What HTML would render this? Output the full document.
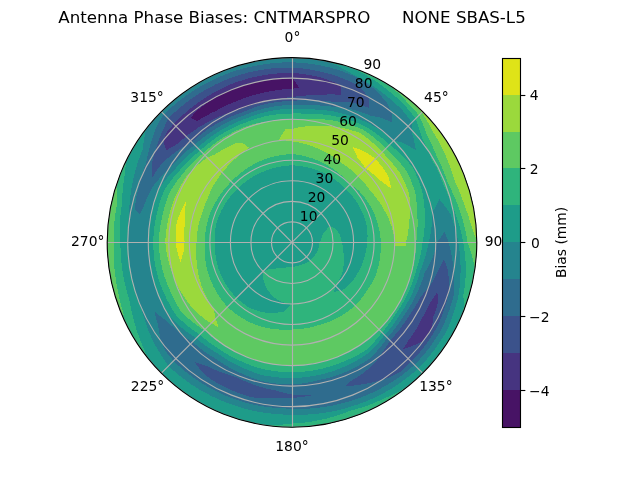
<!DOCTYPE html>
<html><head><meta charset="utf-8"><title>Antenna Phase Biases</title>
<style>html,body{margin:0;padding:0;background:#fff;overflow:hidden}svg{display:block}text{font-family:'DejaVu Sans','Liberation Sans',sans-serif;fill:#000;white-space:pre}</style></head><body>
<svg width="640" height="480" viewBox="0 0 640 480">
<rect width="640" height="480" fill="#fff"/>
<defs><clipPath id="disc"><circle cx="292.00" cy="242.40" r="184.80"/></clipPath></defs>
<g clip-path="url(#disc)" shape-rendering="crispEdges">
<rect x="100" y="50" width="390" height="390" fill="#1e9c89"/>
<path d="M292.0 113.5L296.5 113.4L301.0 113.5L305.5 113.7L310.0 114.1L314.1 114.1L318.1 114.2L322.2 114.4L326.3 114.8L330.4 115.3L334.7 116.1L339.1 117.1L343.4 118.2L347.8 119.5L352.0 120.9L356.3 122.5L360.5 124.2L364.7 126.1L368.5 128.4L372.2 130.8L375.9 133.3L379.5 136.0L383.0 138.8L386.4 141.7L389.7 144.7L393.2 147.5L396.7 150.5L400.0 153.6L403.3 156.8L406.5 160.1L409.5 163.5L412.5 167.1L414.6 171.5L416.6 175.9L418.5 180.4L420.1 184.9L421.7 189.5L422.7 194.3L423.5 199.2L424.1 204.0L424.6 208.9L424.9 213.7L424.9 217.9L424.9 222.0L424.7 226.2L424.3 230.3L423.9 234.4L423.3 238.4L422.6 242.4L422.0 246.5L421.4 250.6L420.6 254.6L419.6 258.7L418.6 262.6L417.4 266.5L416.1 270.4L414.9 274.7L413.6 278.9L412.2 283.1L410.6 287.2L408.9 291.3L407.2 294.8L405.4 298.2L403.6 301.6L401.6 304.9L399.5 308.1L397.3 311.3L395.1 315.0L392.7 318.7L390.2 322.2L387.6 325.7L384.9 329.1L382.0 332.4L379.6 335.6L377.0 338.6L374.4 341.7L371.6 344.6L368.8 347.5L365.8 350.2L361.9 352.6L358.0 354.9L353.9 357.0L349.8 358.9L345.7 360.7L341.5 362.4L337.5 363.9L333.5 365.3L329.5 366.6L325.4 367.8L321.3 368.8L317.2 369.7L313.0 370.5L308.9 371.1L304.7 371.6L300.4 371.9L296.2 372.1L292.0 372.2L287.9 372.1L283.8 372.0L279.8 371.7L275.7 371.3L271.7 370.7L267.7 370.0L263.6 369.2L259.4 368.1L255.1 366.8L250.9 365.3L246.8 363.7L242.7 362.0L238.7 360.2L234.8 358.3L230.9 356.3L227.1 354.2L223.4 351.9L219.8 349.5L216.3 347.3L212.8 345.0L209.5 342.5L206.2 340.0L202.9 337.3L199.8 334.6L196.2 332.2L192.7 329.7L189.2 327.1L185.8 324.3L182.4 321.4L179.2 318.3L176.0 315.2L173.5 311.4L171.2 307.5L169.1 303.6L167.0 299.6L165.1 295.5L163.2 291.3L161.5 287.1L159.8 282.8L158.4 278.5L157.1 274.0L156.1 269.6L155.2 265.1L154.5 260.6L154.0 256.1L153.6 251.5L153.3 247.0L153.2 242.4L153.4 237.9L153.7 233.4L154.1 228.8L154.7 224.4L155.5 219.9L156.4 215.5L157.4 211.1L158.5 206.8L159.7 202.6L161.1 198.5L162.6 194.3L164.2 190.3L166.9 186.2L169.7 182.3L172.6 178.5L175.6 174.9L178.8 171.4L181.6 168.1L184.5 164.9L187.5 161.8L190.5 158.8L193.7 156.0L196.9 153.3L200.2 150.6L203.4 147.7L206.6 144.9L209.9 142.3L213.3 139.7L216.8 137.2L220.3 134.9L224.0 132.7L227.6 130.6L231.4 128.6L235.2 126.8L239.1 125.0L243.0 123.5L247.0 122.0L250.8 120.6L254.6 119.3L258.5 118.1L262.4 117.0L266.3 116.0L270.5 115.3L274.8 114.6L279.1 114.1L283.4 113.7L287.7 113.5Z" fill="#2fb47c"/>
<path d="M292.0 118.8L296.3 118.7L300.7 118.7L305.0 118.9L309.3 119.2L313.2 119.1L317.1 119.1L321.1 119.3L325.0 119.5L329.0 119.9L333.2 120.6L337.5 121.4L341.7 122.4L345.9 123.5L350.2 124.7L354.3 126.1L358.5 127.7L362.6 129.4L366.2 131.8L369.7 134.3L373.1 136.9L376.5 139.6L379.7 142.5L382.9 145.4L385.9 148.5L389.1 151.4L392.3 154.4L395.3 157.5L398.2 160.7L401.1 164.0L403.8 167.4L406.4 170.9L408.5 175.1L410.4 179.2L412.1 183.5L413.7 187.8L415.2 192.1L415.9 196.8L416.5 201.5L416.9 206.1L417.2 210.7L417.2 215.3L417.5 219.2L417.5 223.2L417.5 227.1L417.4 230.9L417.1 234.8L416.7 238.6L416.2 242.4L416.1 246.3L415.8 250.3L415.4 254.2L414.9 258.0L414.2 261.9L413.5 265.8L412.6 269.6L411.4 273.7L410.1 277.8L408.7 281.9L407.1 285.9L405.4 289.8L403.9 293.3L402.3 296.7L400.6 300.0L398.8 303.3L396.9 306.6L394.9 309.7L392.5 313.2L390.0 316.6L387.4 319.9L384.6 323.1L381.8 326.2L378.8 329.2L376.2 331.9L373.4 334.5L370.6 337.0L367.7 339.5L364.7 341.8L361.6 344.1L358.0 346.4L354.3 348.6L350.5 350.7L346.7 352.6L342.8 354.4L338.9 356.1L335.1 357.5L331.3 358.9L327.5 360.0L323.7 361.1L319.8 362.0L315.8 362.9L311.9 363.6L308.0 364.1L304.0 364.6L300.0 364.9L296.0 365.1L292.0 365.2L288.1 365.2L284.3 365.1L280.4 364.8L276.6 364.5L272.7 364.0L268.9 363.4L265.1 362.6L261.0 361.6L257.0 360.5L252.9 359.2L249.0 357.8L245.1 356.3L241.2 354.7L237.4 353.0L233.7 351.2L230.0 349.2L226.4 347.1L222.9 344.9L219.6 342.7L216.3 340.4L213.2 338.0L210.1 335.5L207.1 332.9L204.2 330.2L200.7 328.0L197.3 325.6L194.0 323.1L190.7 320.5L187.5 317.7L184.3 314.9L181.3 311.9L179.0 308.2L176.9 304.5L174.8 300.7L172.9 296.9L171.1 293.0L169.3 289.0L167.6 285.0L166.0 280.9L164.6 276.8L163.3 272.6L162.2 268.4L161.3 264.1L160.5 259.8L159.8 255.5L159.3 251.1L159.0 246.8L158.7 242.4L159.0 238.1L159.3 233.7L159.8 229.4L160.5 225.1L161.2 220.9L162.2 216.6L163.2 212.4L164.2 208.4L165.4 204.3L166.6 200.3L168.0 196.3L169.6 192.4L172.0 188.5L174.5 184.7L177.1 181.0L179.9 177.4L182.8 173.9L185.4 170.6L188.1 167.5L190.9 164.5L193.8 161.5L196.8 158.7L199.9 156.0L203.0 153.4L206.0 150.6L209.2 147.9L212.4 145.3L215.7 142.8L219.0 140.4L222.5 138.1L226.0 136.0L229.6 134.0L233.2 132.1L236.9 130.3L240.7 128.6L244.5 127.1L248.4 125.7L252.1 124.6L255.9 123.6L259.7 122.8L263.6 122.1L267.4 121.5L271.4 120.7L275.5 120.0L279.6 119.5L283.7 119.1L287.9 118.9Z" fill="#5ec962"/>
<path d="M439.4 199.3L442.4 202.9L445.3 206.6L448.0 210.4L450.7 214.4L452.6 219.8L454.3 225.3L455.9 230.9L457.2 236.6L458.3 242.4L459.1 247.9L459.8 253.5L460.2 259.1L460.5 264.7L460.6 270.4L460.4 276.2L460.1 281.9L459.6 287.7L458.9 293.4L457.7 299.0L456.2 304.5L454.6 310.0L452.8 315.5L450.9 320.9L448.7 326.2L446.4 331.5L443.4 336.5L440.2 341.4L436.9 346.3L433.5 351.0L429.9 355.5L426.1 360.0L422.2 364.4L418.2 368.6L413.7 372.5L409.0 376.3L404.3 379.9L399.4 383.4L394.5 386.7L389.4 389.8L384.2 392.7L379.0 395.4L373.7 398.0L368.3 400.4L362.8 402.6L357.3 404.6L351.7 406.4L345.9 408.2L340.0 409.7L334.1 411.1L328.1 412.2L322.1 413.2L316.1 413.9L310.1 414.4L304.0 414.7L298.0 414.8L292.0 414.7L286.0 414.6L280.0 414.4L274.0 413.9L268.0 413.2L262.0 412.4L256.1 411.3L250.2 410.0L244.4 408.5L238.6 406.8L232.9 404.9L227.4 402.9L222.0 400.8L216.7 398.5L211.4 396.0L206.2 393.3L201.1 390.5L196.1 387.5L191.2 384.3L186.4 380.9L181.8 377.4L177.2 373.8L172.8 369.9L168.4 366.0L166.4 363.0L164.5 360.1L161.4 355.5L158.5 350.9L155.8 346.1L153.3 341.4L151.0 336.5L148.9 331.6L147.0 326.6L145.2 321.6L143.6 316.6L142.2 311.6L141.0 306.5L139.0 301.5L137.3 296.5L135.6 291.3L134.2 286.2L132.9 281.0L131.8 275.8L130.9 270.5L130.1 265.2L129.5 259.9L129.1 254.6L128.9 249.2L128.5 245.8L128.1 242.4L128.0 236.7L128.1 230.9L128.4 225.2L128.5 220.1L128.7 215.1L129.0 210.0L129.5 204.9L130.0 199.7L130.6 194.6L131.3 189.4L132.2 184.3L133.4 178.5L134.8 172.7L136.4 167.0L138.2 161.3L140.2 155.7L142.5 150.0L143.2 144.7L144.1 139.4L145.1 134.0L146.4 128.6L138.3 122.3L142.5 117.1L146.8 112.1L151.3 107.2L156.0 102.5L160.9 98.0L165.9 93.6L171.0 89.4L176.3 85.3L181.7 81.5L187.3 77.8L193.0 74.4L198.7 71.1L204.6 68.0L210.6 65.1L216.7 62.4L222.9 60.0L229.1 57.7L235.5 55.7L241.9 53.9L248.3 52.3L254.8 50.9L261.4 49.8L268.0 48.8L274.6 48.1L281.2 47.6L287.9 47.4L294.5 47.3L301.1 47.5L307.8 48.0L314.4 48.6L321.0 49.5L327.5 50.6L325.7 60.7L331.4 63.1L337.0 65.7L342.5 68.5L347.9 71.4L353.1 74.5L358.7 77.4L364.1 80.5L369.4 83.7L374.6 87.1L379.6 90.7L384.5 94.4L389.3 98.2L393.9 102.2L398.3 106.3L402.6 110.6L405.8 114.5L409.0 118.4L411.9 122.5L412.1 128.0L412.2 133.4L413.7 139.1L414.9 144.7L416.0 150.3L411.6 147.6L407.2 145.0L402.8 142.7L398.2 141.6L393.6 140.8L390.5 138.0L387.4 135.2L384.1 132.6L379.9 129.9L375.6 127.3L371.3 124.9L366.9 122.6L362.6 120.6L358.3 118.8L353.9 117.1L349.5 115.6L345.1 114.3L340.6 113.0L336.1 112.0L331.6 111.1L327.4 110.5L323.2 110.0L319.0 109.7L314.9 109.5L310.7 109.4L306.0 109.0L301.3 108.7L296.7 108.7L292.0 108.7L287.5 108.9L283.1 109.2L278.6 109.7L274.2 110.3L269.8 111.1L265.5 112.0L261.4 113.1L257.4 114.3L253.5 115.6L249.6 117.1L245.7 118.6L241.6 120.1L237.6 121.7L233.6 123.5L229.7 125.4L225.8 127.4L222.0 129.5L218.2 131.8L214.6 134.2L211.0 136.7L207.5 139.3L204.1 142.0L200.7 144.9L197.5 147.9L194.0 150.5L190.7 153.3L187.4 156.3L184.2 159.3L181.1 162.4L178.0 165.7L175.1 169.1L171.7 172.6L168.4 176.3L165.2 180.1L162.1 184.1L159.1 188.2L157.3 192.4L155.7 196.6L154.2 201.0L152.8 205.3L151.6 209.7L150.6 214.3L149.8 219.0L149.2 223.6L148.7 228.3L148.3 233.0L148.1 237.7L148.1 242.4L148.1 247.1L148.3 251.9L148.7 256.6L149.2 261.3L149.9 266.0L150.7 270.7L151.7 275.3L153.0 279.9L154.5 284.4L156.2 288.9L157.9 293.3L159.9 297.7L161.9 301.9L164.0 306.1L166.3 310.2L168.7 314.2L171.3 318.1L174.6 321.4L178.0 324.6L181.5 327.6L185.1 330.5L188.7 333.2L192.4 335.8L196.2 338.2L199.5 341.0L202.9 343.7L206.4 346.3L209.9 348.7L213.6 351.0L217.3 353.2L221.0 355.8L224.8 358.2L228.6 360.6L232.6 362.8L236.6 364.8L240.7 366.7L244.9 368.7L249.2 370.5L253.5 372.2L257.9 373.7L262.3 375.1L266.5 375.9L270.8 376.5L275.0 377.1L279.2 377.5L283.5 377.8L287.7 377.9L292.0 377.9L296.4 377.8L300.8 377.6L305.2 377.2L309.6 376.6L314.0 376.0L318.3 375.1L322.6 374.1L326.8 373.0L331.1 371.7L335.2 370.3L339.3 368.8L343.4 367.1L347.7 365.2L351.9 363.1L356.1 360.9L360.1 358.5L364.1 356.0L368.0 353.4L371.0 350.5L374.0 347.6L376.8 344.5L379.5 341.4L382.1 338.3L384.6 335.0L387.6 331.7L390.5 328.2L393.2 324.6L395.8 321.0L398.3 317.3L400.6 313.5L402.8 310.2L405.0 306.8L407.0 303.4L408.9 299.9L410.8 296.4L412.5 292.8L414.3 288.6L415.9 284.3L417.4 280.0L418.8 275.7L420.0 271.2L421.6 267.3L423.1 263.3L424.5 259.3L425.8 255.1L426.9 251.0L427.9 246.7L428.8 242.4L429.7 238.2L430.5 234.0L431.2 229.7L431.7 225.3L432.1 220.9L432.4 216.5L432.5 212.0L434.9 207.9L437.2 203.7Z" fill="#25848e"/>
<path d="M292.0 154.1L295.1 154.4L298.1 154.9L301.1 155.4L304.1 156.1L307.1 156.8L310.0 157.7L312.9 158.6L315.7 159.7L318.5 160.8L321.2 162.1L323.9 163.4L326.4 164.7L328.9 166.2L331.3 167.7L333.7 169.2L336.0 170.9L338.2 172.6L340.3 174.4L342.4 176.3L344.5 178.2L346.4 180.2L348.3 182.2L350.1 184.3L352.1 185.6L354.2 187.0L356.2 188.5L358.1 190.0L360.0 192.0L361.8 194.0L363.5 196.2L365.2 198.3L366.8 200.6L368.4 202.9L369.8 205.2L371.2 207.6L372.6 210.1L373.8 212.6L375.0 215.4L376.0 218.3L377.0 221.2L377.9 224.1L378.6 227.1L379.3 230.1L379.9 233.2L380.3 236.2L380.7 239.3L380.9 242.4L380.9 245.4L380.9 248.4L380.7 251.4L380.4 254.5L380.1 257.5L379.6 260.5L379.0 263.4L378.3 266.4L377.5 269.3L376.7 272.2L375.7 275.1L374.6 278.0L373.2 280.6L371.8 283.2L370.3 285.7L368.7 288.1L367.0 290.5L365.5 292.8L363.9 295.1L362.3 297.3L360.6 299.4L358.9 301.5L357.0 303.6L355.2 305.6L353.1 307.4L351.0 309.1L348.8 310.8L346.6 312.4L344.3 314.0L342.0 315.4L339.4 316.9L336.7 318.4L334.0 319.7L331.2 320.9L328.4 322.1L325.6 323.1L322.7 324.0L319.9 324.9L317.0 325.6L314.3 326.4L311.5 327.1L308.8 327.7L306.0 328.2L303.2 328.6L300.4 329.0L297.6 329.2L294.8 329.4L292.0 329.5L289.1 329.6L286.1 329.7L283.2 329.7L280.2 329.6L277.2 329.4L274.3 329.1L271.3 328.7L268.3 328.1L265.4 327.5L262.5 326.8L259.6 326.0L256.7 325.0L253.8 324.0L251.0 322.9L248.2 321.5L245.4 320.0L242.6 318.4L240.0 316.7L237.4 314.9L234.8 313.0L232.3 311.1L229.9 309.0L227.5 306.9L225.5 304.6L223.6 302.2L221.7 299.8L219.9 297.3L218.3 294.8L216.7 292.2L215.1 289.6L213.7 286.9L212.4 284.2L211.2 281.4L210.0 278.6L209.0 275.8L208.1 272.9L207.2 269.9L206.5 266.9L205.9 263.9L205.4 260.8L205.0 257.7L204.8 254.7L204.6 251.6L204.5 248.5L204.6 245.5L204.7 242.4L204.8 239.4L205.0 236.3L205.3 233.3L205.7 230.3L206.3 227.3L206.9 224.3L207.6 221.4L208.4 218.4L209.4 215.5L210.4 212.7L211.6 209.9L212.9 207.2L214.3 204.5L215.7 201.9L217.3 199.3L218.8 196.9L220.4 194.5L222.0 192.3L223.7 190.0L225.5 187.9L227.4 185.7L229.3 183.7L231.3 181.7L233.3 179.6L235.4 177.6L237.5 175.7L239.7 173.8L242.0 172.0L244.3 170.2L246.7 168.6L249.1 167.0L251.7 165.5L254.2 164.1L256.8 162.8L259.5 161.5L262.2 160.4L265.0 159.3L267.9 158.3L270.8 157.4L273.8 156.6L276.8 156.0L279.8 155.4L282.8 154.9L285.9 154.5L288.9 154.3Z" fill="#2fb47c"/>
<path d="M292.0 165.4L294.7 165.5L297.4 165.7L300.0 166.0L302.7 166.4L305.3 166.8L307.9 167.4L310.5 168.1L313.1 168.8L315.6 169.6L318.1 170.6L320.6 171.6L322.9 172.6L325.2 173.7L327.5 174.9L329.7 176.2L331.9 177.5L334.0 179.0L336.1 180.4L338.1 182.0L340.0 183.6L341.9 185.3L343.8 187.0L345.6 188.8L347.4 190.6L349.1 192.5L350.8 194.4L352.5 196.3L354.0 198.3L355.5 200.4L357.0 202.5L358.3 204.7L359.6 206.9L360.8 209.2L361.9 211.5L363.0 213.8L364.0 216.2L364.8 218.7L365.5 221.3L366.2 223.9L366.8 226.5L367.2 229.1L367.4 231.8L367.5 234.5L367.5 237.1L367.4 239.8L367.2 242.4L366.9 245.0L366.6 247.6L366.1 250.2L365.6 252.7L365.0 255.3L364.3 257.8L363.5 260.2L362.7 262.7L361.7 265.1L360.7 267.4L359.6 269.7L358.5 271.8L357.3 273.8L356.1 275.9L354.8 277.8L353.4 279.7L352.0 281.6L350.5 283.4L348.7 285.1L346.8 286.7L344.8 288.3L342.8 289.8L340.8 291.2L338.5 291.4L336.2 291.5L334.0 291.6L334.5 289.6L334.9 287.6L335.3 285.7L336.4 284.2L337.4 282.8L338.4 281.3L339.4 279.4L340.3 277.5L341.2 275.6L342.0 273.6L342.7 271.7L343.0 269.7L343.3 267.7L343.6 265.8L343.7 263.8L343.8 261.9L343.8 260.0L343.7 258.1L343.6 256.2L343.6 254.4L343.5 252.6L343.4 250.9L343.2 249.1L343.0 247.4L342.7 245.7L342.3 244.0L341.9 242.4L341.5 240.7L341.1 239.0L340.6 237.3L340.1 235.6L339.5 234.0L338.4 232.5L337.3 231.1L336.2 229.7L335.0 228.4L332.9 227.6L330.9 226.9L328.9 226.4L327.8 228.1L326.6 229.7L325.4 231.3L324.1 232.8L322.7 234.2L322.5 235.3L322.2 236.4L321.8 237.5L321.4 238.5L321.0 239.5L320.5 240.5L320.0 241.5L319.5 242.4L319.4 243.4L319.3 244.3L319.1 245.3L318.9 246.2L318.7 247.1L318.4 248.0L318.1 248.9L317.8 249.8L317.5 250.7L317.1 251.5L316.7 252.3L316.3 253.1L315.8 253.9L315.4 254.7L314.9 255.4L314.3 256.1L313.8 256.8L313.2 257.5L312.7 258.1L312.1 258.8L311.4 259.4L310.8 260.0L310.1 260.5L309.4 261.1L308.7 261.5L308.0 262.0L307.3 262.4L306.5 262.8L305.7 263.2L305.0 263.5L304.2 263.8L303.4 264.1L302.6 264.4L301.8 264.6L301.0 264.8L300.2 265.0L299.4 265.3L298.6 265.6L297.8 265.8L297.0 266.1L296.2 266.3L295.4 266.4L294.5 266.6L293.7 266.7L292.9 266.8L292.0 266.8L291.2 267.0L290.4 267.1L289.5 267.1L288.7 267.2L287.9 267.2L287.0 267.2L286.0 267.4L285.1 267.6L284.1 267.8L283.0 268.0L282.0 268.0L280.9 268.1L279.8 268.1L278.7 268.1L277.6 268.0L276.2 268.4L274.7 268.8L273.2 269.1L271.6 269.3L270.0 269.4L268.3 269.4L265.5 270.8L262.6 271.9L262.7 273.9L262.9 275.9L263.2 278.0L263.6 280.0L264.1 282.1L264.8 284.1L265.5 286.2L266.4 288.3L267.5 289.9L268.7 291.4L269.9 292.9L271.3 294.4L272.7 295.8L274.2 297.3L275.8 298.6L277.5 299.6L279.2 300.5L281.1 301.4L282.9 302.2L284.8 302.9L286.7 303.6L288.7 304.2L290.7 304.8L288.4 307.2L285.9 309.5L283.3 311.7L280.8 312.1L278.4 312.5L275.9 312.8L273.4 312.9L270.8 313.0L268.2 313.0L265.9 312.7L263.5 312.2L261.2 311.7L258.8 311.1L256.5 310.4L254.1 309.6L251.8 308.8L249.5 307.8L247.2 306.4L245.0 304.8L242.8 303.2L240.6 301.5L238.6 299.7L236.5 297.9L234.7 295.9L233.0 294.0L231.3 291.9L229.7 289.9L228.2 287.7L226.7 285.5L225.3 283.3L224.0 281.0L222.8 278.7L221.6 276.4L220.6 274.0L219.6 271.5L218.7 269.1L217.9 266.5L217.2 263.9L216.6 261.2L216.1 258.5L215.7 255.9L215.3 253.2L215.1 250.5L215.0 247.8L214.9 245.1L215.0 242.4L214.9 240.0L214.9 237.5L214.9 235.1L215.0 232.7L215.2 230.2L215.5 227.8L215.9 225.4L216.5 223.0L217.3 220.6L218.1 218.2L219.1 215.9L220.1 213.5L221.2 211.1L222.4 208.8L223.6 206.5L224.9 204.3L226.3 202.1L227.8 200.0L229.3 197.9L230.9 195.9L232.6 193.9L234.3 192.0L236.1 190.2L238.0 188.4L239.8 186.6L241.7 184.9L243.7 183.2L245.7 181.6L247.8 180.1L249.9 178.7L252.0 177.3L254.3 176.0L256.5 174.8L258.8 173.6L261.1 172.5L263.5 171.5L265.9 170.6L268.4 169.7L270.9 168.9L273.5 168.1L276.1 167.4L278.7 166.9L281.3 166.4L284.0 166.0L286.6 165.7L289.3 165.5Z" fill="#1e9c89"/>
<path d="M444.4 231.7L446.6 237.0L448.7 242.4L450.1 247.9L451.3 253.5L452.3 259.3L453.2 265.1L453.8 270.9L454.2 276.1L454.4 281.4L454.5 286.7L454.4 292.0L453.1 297.4L451.7 302.8L450.0 308.1L448.2 313.4L446.2 318.6L444.1 323.7L441.7 328.8L438.9 333.7L435.8 338.5L432.7 343.2L429.3 347.8L425.8 352.2L422.2 356.6L418.4 360.8L414.5 364.9L410.1 368.7L405.6 372.4L401.0 375.9L396.2 379.2L391.4 382.3L386.5 385.3L381.4 388.1L376.3 390.8L371.1 393.2L365.9 395.5L360.6 397.6L355.2 399.5L349.8 401.2L344.1 402.8L338.4 404.3L332.7 405.5L326.9 406.6L321.1 407.4L315.3 408.0L309.5 408.5L303.6 408.7L297.8 408.7L292.0 408.5L286.2 408.5L280.4 408.3L274.6 407.8L268.8 407.2L263.1 406.4L257.4 405.4L251.7 404.1L246.0 402.7L240.4 401.1L234.9 399.3L229.7 397.3L224.5 395.2L219.4 392.9L214.3 390.4L209.4 387.7L204.5 384.9L199.8 381.9L195.1 378.8L190.6 375.5L186.1 372.1L181.8 368.5L177.6 364.8L173.5 360.9L170.6 357.4L167.7 353.8L165.0 350.1L163.3 346.1L161.7 342.1L160.3 338.1L159.4 333.7L158.7 329.4L158.2 325.0L156.7 320.5L155.4 315.9L154.3 311.4L158.4 314.7L162.5 318.0L166.8 321.0L170.5 324.6L174.3 328.1L178.2 331.4L182.2 334.5L185.5 337.1L188.9 339.6L192.4 342.0L195.8 344.9L199.3 347.8L202.9 350.5L206.6 353.0L210.3 355.5L214.2 357.8L218.0 360.5L221.9 363.1L226.0 365.5L230.1 367.9L234.3 370.0L238.6 372.1L242.9 374.1L247.3 376.0L251.8 377.8L256.4 379.4L261.0 380.9L265.4 381.8L269.8 382.6L274.2 383.3L278.6 383.8L283.1 384.2L287.5 384.4L292.0 384.5L296.6 384.1L301.2 383.6L305.8 382.9L310.3 382.1L314.8 381.1L319.2 380.0L323.7 379.0L328.1 377.9L332.5 376.7L336.9 375.3L341.2 373.7L345.4 372.1L349.9 370.0L354.3 367.8L358.6 365.5L362.8 363.0L366.9 360.4L370.9 357.6L373.9 354.5L376.8 351.2L379.6 347.9L382.3 344.6L384.8 341.1L387.2 337.6L390.3 334.2L393.3 330.7L396.1 327.0L398.8 323.3L401.4 319.5L403.9 315.6L406.2 312.3L408.5 308.8L410.6 305.3L412.7 301.8L414.6 298.2L416.5 294.5L418.4 290.2L420.2 285.8L421.9 281.4L423.4 276.9L424.8 272.3L427.0 268.7L429.1 265.0L431.0 261.1L432.9 257.2L434.4 252.4L435.8 247.4L437.0 242.4L440.8 237.2Z" fill="#2f6c8e"/>
<path d="M139.9 214.5L135.1 209.1L135.5 203.4L136.1 197.7L137.4 192.2L139.0 186.7L140.1 181.8L141.4 177.0L142.9 172.2L144.5 167.4L146.3 162.6L147.2 157.9L148.2 153.1L149.4 148.3L150.7 143.5L152.6 137.4L154.8 131.3L157.2 125.2L160.4 119.7L163.9 114.3L168.3 110.1L172.9 106.1L177.5 102.2L182.3 98.5L187.2 94.9L192.2 91.5L197.4 88.2L202.6 85.2L208.0 82.3L213.4 79.6L218.9 77.1L224.5 74.7L230.2 72.6L236.2 70.6L242.2 68.8L248.3 67.3L254.5 65.9L260.7 64.8L266.9 63.8L273.2 63.1L279.4 62.6L285.7 62.4L292.0 62.3L297.9 62.6L303.8 63.1L309.6 63.7L315.4 64.6L321.2 65.6L326.9 66.8L332.6 68.3L338.2 69.8L343.8 71.9L349.3 74.1L354.7 76.4L360.0 79.0L365.2 82.4L370.2 85.9L375.0 89.6L379.2 93.9L383.3 98.4L387.1 103.0L389.4 107.8L391.5 112.7L391.6 117.6L391.6 122.5L386.9 120.2L382.3 118.1L376.7 116.9L371.1 115.8L366.2 113.9L361.3 112.1L356.3 110.6L351.3 109.2L346.7 108.4L342.1 107.7L337.5 107.1L333.0 106.8L328.6 106.2L324.2 105.8L319.9 105.5L315.6 105.4L311.3 105.4L306.4 105.0L301.6 104.8L296.8 104.7L292.0 104.8L287.4 105.0L282.8 105.4L278.3 105.9L273.7 106.6L269.2 107.4L264.7 108.4L260.6 109.5L256.5 110.8L252.4 112.1L248.4 113.6L244.5 115.3L240.3 116.8L236.1 118.4L232.0 120.1L227.9 122.0L223.9 124.1L220.0 126.3L216.1 128.6L212.3 131.0L208.6 133.5L204.9 136.2L201.4 139.0L197.9 141.9L194.6 145.0L191.0 147.7L187.5 150.5L184.1 153.5L180.7 156.6L177.5 159.9L174.3 163.2L171.3 166.7L167.5 170.2L163.8 173.8L160.2 177.7L156.8 181.7L153.4 185.8L151.3 189.6L149.3 193.5L147.4 197.4L145.6 201.4L144.0 205.5L141.9 209.9Z" fill="#2f6c8e"/>
<path d="M152.0 178.3L151.9 172.9L152.1 167.4L152.4 161.8L153.5 157.0L154.8 152.2L156.3 147.4L157.9 142.7L159.6 138.0L161.5 133.4L163.6 128.8L165.8 123.7L168.2 118.6L172.4 114.4L176.7 110.5L181.2 106.7L185.8 103.0L190.5 99.5L195.3 96.1L200.3 92.9L205.3 89.9L210.5 87.1L215.7 84.4L221.0 81.9L226.5 79.6L232.0 77.4L237.8 75.5L243.6 73.8L249.6 72.2L255.6 70.9L261.6 69.8L267.6 68.9L273.7 68.2L279.8 67.8L285.9 67.5L292.0 67.5L297.5 67.9L302.9 68.5L308.4 69.2L313.8 70.2L319.1 71.3L324.4 72.5L329.7 73.9L334.8 75.5L339.7 77.2L344.4 79.1L349.1 81.0L353.8 83.1L358.5 86.6L363.0 90.2L365.9 94.1L368.7 98.1L368.7 107.9L363.8 106.1L358.8 104.4L353.8 102.9L348.5 102.1L343.3 101.5L338.8 101.7L334.4 102.0L330.0 101.4L325.7 101.0L321.4 100.6L317.0 100.4L312.0 100.2L307.0 100.1L301.9 100.2L297.0 100.5L292.0 100.9L287.3 101.1L282.6 101.4L277.9 101.9L273.2 102.6L268.5 103.4L263.9 104.4L259.7 105.6L255.5 107.0L251.3 108.6L247.3 110.2L243.2 112.0L238.9 113.5L234.6 115.1L230.4 116.9L226.2 118.8L222.0 120.9L218.0 123.0L214.0 125.4L210.0 127.8L206.2 130.4L202.4 133.2L198.8 136.0L195.2 139.0L191.7 142.1L187.5 144.4L183.3 146.9L179.2 149.5L175.2 152.3L171.2 155.3L167.3 158.5L163.5 161.8L161.2 164.6L158.9 167.5L156.8 170.5L154.3 174.3Z" fill="#3b528b"/>
<path d="M350.6 67.1L356.2 69.9L361.7 72.7L367.1 75.8L372.3 79.0L377.4 82.4L382.3 85.9L387.4 89.8L392.3 93.8L397.0 97.9L401.5 102.2L405.9 106.7L409.3 110.6L412.5 114.7L415.6 118.8L417.5 123.9L419.3 129.0L420.9 134.0L422.3 139.1L424.6 143.4L426.7 147.7L428.7 152.0L430.5 156.4L432.2 160.8L434.0 163.4L435.8 166.0L438.0 170.7L440.0 175.6L441.9 180.5L443.6 185.4L445.7 189.5L447.6 193.8L449.4 198.1L451.0 202.4L452.6 206.8L454.6 211.6L456.4 216.6L458.1 221.6L459.6 226.7L461.0 231.9L462.2 237.1L463.2 242.4L464.2 248.4L465.0 254.5L465.5 260.6L465.8 266.8L465.9 273.1L465.5 278.5L465.0 283.9L464.3 289.4L463.4 294.8L463.6 300.4L463.6 306.0L463.3 311.6L472.9 315.5L475.3 309.2L477.5 302.7L479.5 296.3L481.2 289.7L482.8 283.1L484.1 276.5L485.1 269.8L486.0 263.1L486.6 256.3L486.9 249.6L487.1 242.8L487.0 236.0L486.6 229.3L486.1 222.5L485.2 215.8L484.2 209.1L482.9 202.4L481.4 195.8L479.7 189.3L477.7 182.8L475.6 176.4L473.2 170.1L470.5 163.8L467.7 157.7L464.7 151.6L461.4 145.7L457.9 139.9L454.3 134.2L450.4 128.6L446.4 123.2L442.1 117.9L437.7 112.7L433.1 107.8L428.4 102.9L423.5 98.3L418.4 93.8L413.1 89.5L407.8 85.4L402.2 81.5L396.6 77.7L390.8 74.2L384.9 70.9L378.9 67.8L372.8 64.9L366.6 62.2L360.3 59.7L353.9 57.4Z" fill="#2fb47c"/>
<path d="M218.4 327.0L215.5 325.6L212.6 324.0L209.7 322.4L206.9 320.6L204.2 318.6L201.5 316.4L198.9 314.2L196.3 311.8L193.8 309.4L191.1 306.3L188.6 303.1L186.2 299.9L183.8 296.5L181.6 293.0L179.5 289.5L177.6 285.9L175.8 282.2L174.2 278.4L172.7 274.6L171.3 270.7L170.0 266.8L168.9 262.8L167.9 258.8L167.1 254.8L166.3 250.7L165.8 246.6L165.3 242.4L165.5 238.3L165.9 234.1L166.4 230.0L167.0 226.0L167.7 221.9L168.6 217.9L169.6 213.9L170.6 210.1L171.8 206.2L173.0 202.5L174.4 198.7L175.9 195.0L177.8 191.1L179.8 187.3L182.0 183.5L184.2 179.9L186.6 176.3L189.3 173.3L192.1 170.4L195.0 167.6L197.9 164.9L201.0 162.4L204.1 159.9L207.2 157.6L210.8 156.1L214.4 154.7L217.6 152.7L220.8 150.8L224.1 149.0L227.4 147.3L230.0 146.0L232.7 144.7L235.4 143.5L239.0 143.3L242.5 143.2L245.9 145.4L249.1 147.8L246.6 149.5L244.3 151.3L241.9 153.1L239.7 155.0L237.1 157.1L234.7 159.3L232.3 161.6L229.9 163.9L227.7 166.3L225.8 168.3L223.9 170.3L222.0 172.4L220.3 174.9L218.6 177.4L217.1 180.0L215.5 182.2L214.0 184.5L212.7 186.9L211.5 189.4L210.3 191.9L209.3 194.4L208.3 196.9L207.1 199.5L206.0 202.1L205.0 204.8L204.1 207.4L203.2 210.1L202.1 213.2L201.0 216.3L200.0 219.5L199.1 222.7L198.4 225.9L197.9 228.7L197.5 231.5L197.1 234.4L196.9 237.2L196.8 240.1L196.5 243.1L196.3 246.2L196.1 249.3L196.1 252.4L196.2 255.5L196.4 258.6L196.6 261.8L196.9 265.1L197.4 268.4L197.9 271.7L198.5 274.9L199.3 278.2L200.1 281.2L201.1 284.3L202.1 287.3L203.3 290.3L204.5 293.2L205.9 296.2L207.3 299.1L208.9 301.9L210.4 304.5L212.0 307.0L213.7 309.5L214.4 313.0L215.2 316.5L216.1 320.0L217.2 323.5Z" fill="#9bd93c"/>
<path d="M278.9 139.8L281.0 136.1L283.2 132.6L285.7 129.0L288.8 128.9L292.0 128.9L295.7 128.0L299.5 127.3L303.3 126.7L307.2 126.3L311.1 126.0L315.1 125.8L319.1 125.7L323.1 125.8L327.1 126.0L331.3 126.4L335.4 126.9L339.6 127.5L343.7 128.3L347.9 129.3L352.1 130.4L356.2 131.6L360.3 133.0L363.7 135.5L367.0 138.0L370.3 140.7L373.4 143.4L376.4 146.3L379.3 149.2L382.2 152.2L385.1 155.1L388.0 158.1L390.8 161.2L393.4 164.4L396.0 167.6L398.5 171.0L400.8 174.4L402.8 178.3L404.6 182.3L406.3 186.3L407.9 190.4L409.3 194.5L409.7 199.1L409.9 203.6L410.0 208.1L409.9 212.6L409.6 217.0L409.4 220.7L409.1 224.4L408.7 228.1L408.2 231.8L407.6 235.4L406.8 238.9L406.0 242.4L405.5 246.4L395.2 246.0L394.9 242.8L394.5 239.7L394.0 236.6L393.4 233.5L392.7 230.5L391.9 227.5L390.8 224.3L389.6 221.1L388.3 218.0L386.9 215.0L385.3 212.1L383.7 209.1L382.0 206.2L380.2 203.3L378.3 200.6L376.3 197.9L374.3 195.3L372.1 192.8L369.9 190.4L368.1 187.9L366.3 185.4L364.4 183.0L362.4 180.7L360.3 178.4L358.2 176.2L356.0 174.1L353.8 172.0L351.5 170.1L349.1 168.2L346.7 166.4L344.2 164.6L341.6 163.0L339.2 161.0L336.7 159.1L334.1 157.3L331.5 155.6L328.7 153.9L326.0 152.4L323.1 150.9L320.2 149.5L317.2 148.2L314.2 147.0L311.2 145.9L308.1 144.9L305.0 144.0L301.8 143.2L298.6 142.5L295.3 141.9L292.0 141.4L288.8 140.8L285.5 140.4L282.2 140.0Z" fill="#9bd93c"/>
<path d="M389.4 85.3L393.4 88.8L397.4 92.4L401.2 96.0L404.9 99.8L408.4 103.7L412.1 107.5L415.6 111.4L419.0 115.4L421.3 120.3L423.4 125.3L425.3 130.4L427.0 135.4L429.3 139.8L431.5 144.3L433.6 148.8L435.5 153.3L437.3 157.9L438.8 160.7L440.3 163.5L442.5 168.5L444.5 173.5L446.4 178.6L448.1 183.7L450.3 188.0L452.4 192.3L454.4 196.6L456.2 201.1L458.0 205.6L459.8 210.6L461.5 215.8L463.1 221.0L464.4 226.2L465.6 231.6L466.7 237.0L467.6 242.4L469.8 248.6L471.7 255.0L473.5 261.5L475.0 268.1L485.2 269.5L486.0 263.0L486.6 256.4L486.9 249.7L487.1 243.1L487.0 236.5L486.7 229.9L486.1 223.3L485.4 216.7L484.4 210.1L483.2 203.6L481.7 197.1L480.1 190.7L478.2 184.4L476.2 178.1L473.9 171.8L471.4 165.7L468.6 159.7L465.7 153.7L462.6 147.8L459.3 142.1L455.8 136.5L452.1 131.0L448.2 125.6L444.2 120.4L439.9 115.3L435.5 110.3L431.0 105.5L426.2 100.9L421.3 96.4L416.3 92.1L411.1 87.9L405.8 84.0L400.4 80.2L394.8 76.6Z" fill="#5ec962"/>
<path d="M166.6 150.3L164.1 144.3L163.7 138.2L165.8 134.4L167.9 130.7L170.8 127.3L173.7 124.1L177.6 120.0L181.6 116.1L185.8 112.4L190.2 108.7L194.6 105.3L199.2 101.9L203.8 98.7L208.6 95.7L213.5 92.8L218.5 90.1L223.6 87.6L228.7 85.2L234.0 83.0L239.6 81.1L245.3 79.4L251.0 77.8L256.7 76.5L262.5 75.4L268.4 74.4L274.3 73.7L280.2 73.2L286.1 72.9L292.0 72.8L297.9 73.3L303.8 74.1L309.6 75.1L315.4 76.2L321.1 77.6L325.7 79.1L330.3 80.8L334.8 82.5L337.8 83.7L340.8 84.9L340.6 95.4L337.5 94.9L334.4 94.4L328.9 94.4L323.4 94.7L318.0 95.2L312.7 95.2L307.5 95.4L302.3 95.7L297.1 96.3L292.0 97.0L287.2 97.5L282.3 98.1L277.5 98.9L272.8 99.8L268.1 100.9L263.5 102.2L259.1 103.2L254.8 104.4L250.5 105.7L246.2 107.1L242.0 108.7L237.6 109.9L233.3 111.2L228.9 112.7L224.6 114.3L220.3 116.0L216.1 117.9L211.9 120.0L207.8 122.1L203.3 124.7L198.8 127.3L194.5 130.2L190.2 133.2L186.0 136.4L182.0 139.8L178.1 143.4L175.1 145.2L172.1 147.0L169.3 148.6Z" fill="#463480"/>
<path d="M148.4 358.7L145.6 353.0L143.1 347.2L140.8 341.3L138.8 336.3L137.0 331.1L135.4 326.0L134.0 320.9L132.7 315.7L131.5 310.5L130.4 305.2L129.4 300.0L127.7 294.5L126.2 289.0L124.8 283.5L123.7 277.9L122.7 272.3L121.9 266.6L121.3 260.9L120.9 255.3L120.7 249.6L120.3 246.0L119.9 242.4L119.7 236.8L119.6 231.2L119.8 225.6L120.1 220.0L120.6 214.4L121.3 208.8L122.1 203.2L122.3 196.9L122.7 190.7L123.4 184.3L124.3 178.0L124.8 172.0L125.6 166.0L126.6 159.9L117.4 155.4L114.5 161.5L111.8 167.7L109.3 173.9L107.1 180.3L105.0 186.8L103.2 193.3L101.6 199.8L100.3 206.4L99.1 213.1L98.2 219.8L97.6 226.5L97.1 233.3L96.9 240.0L97.0 246.8L97.3 253.5L97.8 260.3L98.5 267.0L99.5 273.7L100.7 280.3L102.1 286.9L103.7 293.5L105.6 300.0L107.7 306.4L110.1 312.7L112.6 319.0L115.4 325.2L118.3 331.2L121.5 337.2L124.9 343.0L128.5 348.8L132.3 354.4L136.2 359.8L140.4 365.2Z" fill="#2fb47c"/>
<path d="M444.0 259.2L446.0 264.5L447.7 269.9L448.4 274.9L448.8 280.1L449.1 285.2L449.3 290.5L448.1 295.7L446.8 300.9L445.3 306.1L443.6 311.2L441.7 316.3L439.7 321.4L437.5 326.4L434.7 331.1L431.8 335.8L428.8 340.4L425.6 344.9L422.2 349.3L418.7 353.6L415.1 357.7L411.3 361.7L407.9 365.1L404.4 368.4L400.7 371.5L396.0 374.1L391.2 376.4L386.3 378.6L381.6 380.0L377.0 381.3L372.3 382.4L367.6 383.4L363.6 384.1L359.6 384.8L355.6 385.3L350.7 385.9L345.8 386.3L349.4 381.7L353.7 379.3L357.9 376.7L362.0 374.0L365.3 371.4L368.5 368.7L371.6 365.9L374.6 363.0L377.7 359.2L380.6 355.2L383.3 351.2L385.7 347.7L388.0 344.2L390.2 340.6L393.4 337.0L396.4 333.4L399.4 329.7L402.2 325.9L404.9 322.0L407.5 318.0L409.9 314.5L412.3 311.0L414.6 307.5L416.8 303.8L418.9 300.1L420.8 296.3L423.3 293.7L425.7 291.1L428.2 288.1L430.6 285.0L432.9 280.8L435.2 276.4L437.3 272.0L439.7 267.8L441.9 263.6Z" fill="#3b528b"/>
<path d="M410.8 100.8L414.6 104.6L418.3 108.5L421.9 112.5L424.8 117.0L427.5 121.7L430.1 126.3L432.5 131.1L435.2 135.4L437.8 139.8L440.3 144.3L442.6 148.9L444.8 153.5L446.1 156.6L447.4 159.8L449.5 165.1L451.4 170.4L453.2 175.8L454.8 181.2L456.9 185.7L458.9 190.2L460.8 194.8L462.5 199.5L464.1 204.2L465.9 209.0L467.7 213.8L469.2 218.7L470.7 223.6L472.5 229.0L474.2 234.4L476.8 239.2L487.0 239.0L486.8 232.3L486.3 225.7L485.7 219.0L484.7 212.4L483.6 205.8L482.2 199.3L480.7 192.8L478.9 186.4L476.8 180.1L474.6 173.8L472.1 167.6L469.5 161.4L466.6 155.4L463.5 149.5L460.2 143.7L456.8 138.0L453.1 132.4L449.3 127.0L445.2 121.7L441.0 116.5L436.6 111.5L432.0 106.6L427.3 101.9L422.4 97.3L417.4 93.0Z" fill="#9bd93c"/>
<path d="M408.3 386.0L403.3 389.0L398.2 391.8L393.0 394.5L387.8 396.9L382.6 399.2L377.3 401.6L371.9 403.9L366.5 405.9L361.1 407.7L355.6 409.4L350.0 410.9L344.8 412.9L339.5 414.8L334.1 416.5L328.7 418.0L323.2 419.3L317.0 420.6L310.8 421.7L304.6 422.5L298.3 423.1L292.0 423.5L285.6 424.3L279.2 424.9L272.8 425.3L266.3 425.4L264.9 435.6L271.5 436.4L278.1 437.0L284.8 437.3L291.4 437.5L298.1 437.4L304.8 437.0L311.4 436.5L318.0 435.7L324.6 434.7L331.2 433.5L337.7 432.0L344.1 430.4L350.5 428.5L356.8 426.4L363.1 424.0L369.3 421.5L375.3 418.8L381.3 415.8L387.2 412.7L393.0 409.3L398.6 405.8L404.1 402.0L409.5 398.1L414.8 394.0Z" fill="#2fb47c"/>
<path d="M123.2 317.6L123.6 313.9L121.7 307.8L120.1 301.6L118.7 295.4L117.5 289.2L116.5 284.0L115.7 278.8L115.1 273.6L114.4 267.7L113.9 261.7L113.6 255.8L113.5 249.9L113.6 246.1L113.8 242.4L113.7 236.6L113.9 230.8L114.2 225.1L114.7 219.3L115.4 213.5L116.3 207.8L117.3 202.1L117.2 197.2L117.1 192.3L116.2 185.3L106.5 182.1L104.5 188.6L102.7 195.2L101.2 201.8L99.9 208.5L98.8 215.3L98.0 222.0L97.4 228.8L97.1 235.6L96.9 242.4L97.1 249.2L97.4 256.0L98.0 262.8L98.8 269.5L99.9 276.3L101.2 283.0L102.7 289.6L104.5 296.2L106.5 302.7L108.7 309.1L111.1 315.5L113.8 321.7Z" fill="#5ec962"/>
<path d="M191.2 117.9L194.4 112.9L198.2 109.7L202.1 106.6L206.2 103.7L210.3 100.9L215.2 97.9L220.2 95.2L225.3 92.6L230.5 90.2L235.8 88.0L240.9 86.3L245.9 84.8L251.1 83.4L256.2 82.2L261.5 81.2L266.7 80.3L272.0 79.6L277.2 79.1L282.5 78.7L287.8 78.6L293.1 78.5L296.2 83.2L299.0 87.9L295.5 88.3L292.0 88.8L286.6 89.1L281.3 89.6L276.0 90.3L270.7 91.1L265.5 92.2L260.3 93.3L255.2 94.7L250.1 96.2L245.1 97.9L240.1 99.8L235.1 101.7L230.2 103.7L225.4 105.9L220.7 108.3L216.0 110.8L211.2 113.1L206.5 115.6L201.8 118.2L197.2 121.0Z" fill="#471365"/>
<path d="M316.1 394.5L311.3 395.5L306.5 396.3L301.7 397.0L296.9 397.5L292.0 397.8L286.9 398.2L281.8 398.4L276.6 398.5L271.5 398.3L266.3 398.3L261.0 398.1L255.8 397.7L250.5 397.1L246.1 395.7L241.7 394.2L237.4 392.5L232.2 390.4L227.1 388.1L222.1 385.6L217.2 383.0L212.4 380.2L207.9 376.9L203.6 373.5L200.3 369.6L197.1 365.6L194.1 361.6L198.8 363.4L203.5 365.1L208.2 366.6L212.8 368.8L217.5 370.8L222.2 372.6L226.9 374.3L231.7 375.8L236.4 377.2L240.9 379.4L245.5 381.4L250.2 383.3L254.9 385.1L259.7 386.7L263.9 387.9L268.0 388.9L272.2 389.8L276.4 390.7L281.5 392.1L286.7 393.4L292.0 394.6L296.8 394.8L301.6 395.0L306.4 395.0L311.3 394.8Z" fill="#3b528b"/>
<path d="M437.4 291.9L437.6 296.0L437.6 300.0L437.5 304.2L436.2 308.6L434.7 313.0L433.1 317.4L432.6 322.6L431.9 327.8L429.7 331.9L427.4 336.0L424.9 340.0L420.3 342.4L415.6 344.5L411.0 346.5L406.9 348.0L402.8 349.4L405.5 345.3L408.0 341.1L410.9 337.3L413.6 333.3L416.1 329.3L418.3 325.5L420.4 321.6L422.3 317.7L424.7 313.7L426.9 309.6L429.0 305.5L430.9 301.4L433.1 298.3L435.3 295.1Z" fill="#463480"/>
<path d="M352.3 146.9L356.1 148.1L359.7 149.5L363.4 151.0L366.5 152.8L369.6 154.7L372.5 156.8L375.5 158.9L378.2 162.0L380.8 165.2L383.3 168.5L385.6 171.8L387.9 175.3L388.9 178.6L389.7 182.0L390.5 185.4L391.2 188.8L388.5 186.6L385.8 184.5L383.1 182.5L380.3 180.6L377.6 177.9L374.8 175.4L371.9 173.0L368.9 170.7L365.9 168.5L364.0 165.9L362.0 163.3L359.9 160.7L357.7 158.3L356.1 154.5L354.3 150.7Z" fill="#dfe318"/>
<path d="M180.6 262.4L179.5 259.1L178.4 255.8L177.5 252.4L176.7 249.1L176.1 245.8L175.6 242.4L175.5 238.3L175.6 234.3L175.8 230.2L176.2 226.1L176.7 222.1L178.0 218.4L179.5 214.8L181.0 211.3L182.6 207.8L184.4 204.5L186.2 201.2L185.7 204.9L185.2 208.7L184.9 212.4L184.8 216.1L184.7 219.8L184.8 223.5L184.5 227.3L184.3 231.1L184.3 234.9L184.4 238.6L184.6 242.4L184.2 245.5L183.8 248.7L183.6 251.9L182.5 255.3L181.5 258.8Z" fill="#dfe318"/>
</g>
<g fill="none" stroke="#b0b0b0" stroke-width="1.111" clip-path="url(#disc)">
<line x1="292.50" y1="242.40" x2="292.50" y2="57.60"/>
<line x1="292.00" y1="242.40" x2="422.67" y2="111.73"/>
<line x1="292.00" y1="242.50" x2="476.80" y2="242.50"/>
<line x1="292.00" y1="242.40" x2="422.67" y2="373.07"/>
<line x1="292.50" y1="242.40" x2="292.50" y2="427.20"/>
<line x1="292.00" y1="242.40" x2="161.33" y2="373.07"/>
<line x1="292.00" y1="242.50" x2="107.20" y2="242.50"/>
<line x1="292.00" y1="242.40" x2="161.33" y2="111.73"/>
<circle cx="292.00" cy="242.40" r="20.53"/>
<circle cx="292.00" cy="242.40" r="41.07"/>
<circle cx="292.00" cy="242.40" r="61.60"/>
<circle cx="292.00" cy="242.40" r="82.13"/>
<circle cx="292.00" cy="242.40" r="102.67"/>
<circle cx="292.00" cy="242.40" r="123.20"/>
<circle cx="292.00" cy="242.40" r="143.73"/>
<circle cx="292.00" cy="242.40" r="164.27"/>
<circle cx="292.00" cy="242.40" r="184.80"/>
</g>
<circle cx="292.00" cy="242.40" r="184.80" fill="none" stroke="#000" stroke-width="1.111"/>
<text x="292.50" y="42.29" font-size="13.889" text-anchor="middle">0°</text>
<text x="436.42" y="101.81" font-size="13.889" text-anchor="middle">45°</text>
<text x="497.04" y="246.23" font-size="13.889" text-anchor="middle">90°</text>
<text x="435.92" y="390.66" font-size="13.889" text-anchor="middle">135°</text>
<text x="292.00" y="450.93" font-size="13.889" text-anchor="middle">180°</text>
<text x="147.58" y="390.66" font-size="13.889" text-anchor="middle">225°</text>
<text x="87.76" y="246.23" font-size="13.889" text-anchor="middle">270°</text>
<text x="147.08" y="101.81" font-size="13.889" text-anchor="middle">315°</text>
<text x="299.86" y="220.54" font-size="13.889" text-anchor="start">10</text>
<text x="307.72" y="201.57" font-size="13.889" text-anchor="start">20</text>
<text x="315.57" y="182.60" font-size="13.889" text-anchor="start">30</text>
<text x="323.43" y="163.63" font-size="13.889" text-anchor="start">40</text>
<text x="331.29" y="144.66" font-size="13.889" text-anchor="start">50</text>
<text x="339.15" y="125.69" font-size="13.889" text-anchor="start">60</text>
<text x="347.00" y="106.72" font-size="13.889" text-anchor="start">70</text>
<text x="354.86" y="87.75" font-size="13.889" text-anchor="start">80</text>
<text x="363.52" y="68.78" font-size="13.889" text-anchor="start">90</text>
<text x="292.00" y="23.10" font-size="16.667" text-anchor="middle">Antenna Phase Biases: CNTMARSPRO      NONE SBAS-L5</text>
<text x="529.10" y="395.52" font-size="13.889" text-anchor="start">−4</text>
<text x="529.10" y="321.60" font-size="13.889" text-anchor="start">−2</text>
<text x="531.00" y="247.68" font-size="13.889" text-anchor="start">0</text>
<text x="529.80" y="173.76" font-size="13.889" text-anchor="start">2</text>
<text x="529.80" y="99.84" font-size="13.889" text-anchor="start">4</text>
<text x="566.39" y="242.40" font-size="13.889" text-anchor="middle" transform="rotate(-90 566.39 242.40)">Bias (mm)</text>
<g shape-rendering="crispEdges">
<rect x="502" y="390" width="19" height="38" fill="#471365"/>
<rect x="502" y="353" width="19" height="37" fill="#463480"/>
<rect x="502" y="316" width="19" height="37" fill="#3b528b"/>
<rect x="502" y="279" width="19" height="37" fill="#2f6c8e"/>
<rect x="502" y="242" width="19" height="37" fill="#25848e"/>
<rect x="502" y="205" width="19" height="37" fill="#1e9c89"/>
<rect x="502" y="168" width="19" height="37" fill="#2fb47c"/>
<rect x="502" y="132" width="19" height="36" fill="#5ec962"/>
<rect x="502" y="95" width="19" height="37" fill="#9bd93c"/>
<rect x="502" y="58" width="19" height="37" fill="#dfe318"/>
</g>
<rect x="502.50" y="58.50" width="18.00" height="369.00" fill="none" stroke="#000" stroke-width="1.111"/>
<line x1="520.50" y1="95.50" x2="525.36" y2="95.50" stroke="#000" stroke-width="1.111"/>
<line x1="520.50" y1="168.50" x2="525.36" y2="168.50" stroke="#000" stroke-width="1.111"/>
<line x1="520.50" y1="242.50" x2="525.36" y2="242.50" stroke="#000" stroke-width="1.111"/>
<line x1="520.50" y1="316.50" x2="525.36" y2="316.50" stroke="#000" stroke-width="1.111"/>
<line x1="520.50" y1="390.50" x2="525.36" y2="390.50" stroke="#000" stroke-width="1.111"/>
</svg></body></html>
